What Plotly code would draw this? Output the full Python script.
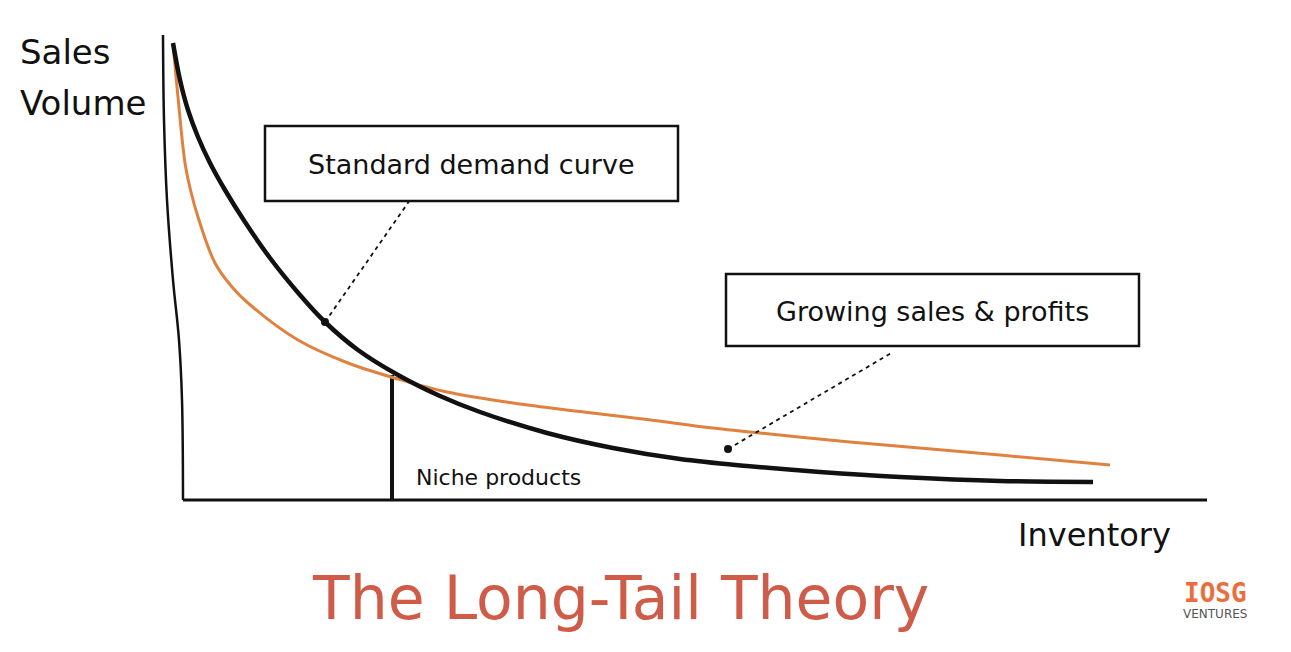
import plotly.graph_objects as go

# Curves (x = inventory, y = sales volume)
demand_x = [-10, -3, 5, 15, 27, 42, 62, 87, 117, 142, 175, 215, 257, 297, 364, 430, 497, 564, 637, 717, 817, 910]
demand_y = [457, 420, 390, 363, 337, 310, 278, 242, 205, 178, 150, 125, 104, 88, 67, 52, 41, 34, 28, 23, 19, 18]

longtail_x = [-10, -5, 2, 8, 15, 32, 49, 65, 115, 165, 215, 264, 330, 397, 464, 530, 597, 667, 817, 927]
longtail_y = [457, 403, 337, 308, 283, 237, 213, 197, 160, 137, 121, 108, 97, 88.5, 80.5, 72, 65, 58, 45, 35]

# Hand-drawn axes
yaxis_line_x = [-20, -19, -16, -10, -4, -1, 0]
yaxis_line_y = [465, 380, 300, 220, 160, 100, 0]
xaxis_line_x = [0, 1024]
xaxis_line_y = [0, 0]

niche_x = [209, 209]
niche_y = [0, 125]

pointer1_x = [142, 227]
pointer1_y = [178, 300]
pointer2_x = [545, 710]
pointer2_y = [51, 148]

BLACK = "#111111"
ORANGE = "#e0823f"
HAND = "'DejaVu Sans', sans-serif"

fig = go.Figure()

def line(x, y, color, width, dash="solid", shape="spline", smoothing=1.0):
    fig.add_trace(go.Scatter(x=x, y=y, mode="lines",
                             line=dict(color=color, width=width, dash=dash, shape=shape, smoothing=smoothing),
                             hoverinfo="skip", showlegend=False))

line(yaxis_line_x, yaxis_line_y, BLACK, 2.5)
line(xaxis_line_x, xaxis_line_y, BLACK, 3, shape="linear")
line(niche_x, niche_y, BLACK, 4, shape="linear")
line(longtail_x, longtail_y, ORANGE, 3)
line(demand_x, demand_y, BLACK, 4.5)
line(pointer1_x, pointer1_y, BLACK, 1.8, dash="4px,4px", shape="linear")
line(pointer2_x, pointer2_y, BLACK, 1.8, dash="4px,4px", shape="linear")

fig.add_trace(go.Scatter(x=[pointer1_x[0], pointer2_x[0]], y=[pointer1_y[0], pointer2_y[0]],
                         mode="markers", marker=dict(color=BLACK, size=8),
                         hoverinfo="skip", showlegend=False))

# Boxes
fig.add_shape(type="rect", xref="x", yref="y", x0=82, x1=495, y0=299, y1=374,
              line=dict(color=BLACK, width=2.5), fillcolor="white", layer="below")
fig.add_shape(type="rect", xref="x", yref="y", x0=543, x1=956, y0=154, y1=226,
              line=dict(color=BLACK, width=2.5), fillcolor="white", layer="below")

def text(t, x, y, size, color=BLACK, xanchor="center", family=HAND, **kw):
    fig.add_annotation(text=t, x=x, y=y, xref="x", yref="y", showarrow=False,
                       xanchor=xanchor, yanchor="middle",
                       font=dict(family=family, size=size, color=color), **kw)

text("Sales", -165, 448, 34, xanchor="left")
text("Volume", -165, 397, 34, xanchor="left")
text("Inventory", 911, -35, 32)
text("Niche products", 231, 23, 22, xanchor="left")
text("Standard demand curve", 288, 336, 27)
text("Growing sales &amp; profits", 749, 189, 27)
text("The Long-Tail Theory", 437, -98, 60, color="#cf5b49")
text("<b>IOSG</b>", 1032, -93, 26, color="#ec6d3c", family="'DejaVu Sans Mono', monospace")
text("VENTURES", 1032, -114, 12, color="#555555", family="'DejaVu Sans', sans-serif")

fig.update_layout(
    width=1291, height=652,
    margin=dict(l=0, r=0, t=0, b=0),
    paper_bgcolor="white", plot_bgcolor="white",
    xaxis=dict(range=[-183, 1108], visible=False, fixedrange=True),
    yaxis=dict(range=[-152, 500], visible=False, fixedrange=True),
    showlegend=False,
)

fig.write_html("out.html")
